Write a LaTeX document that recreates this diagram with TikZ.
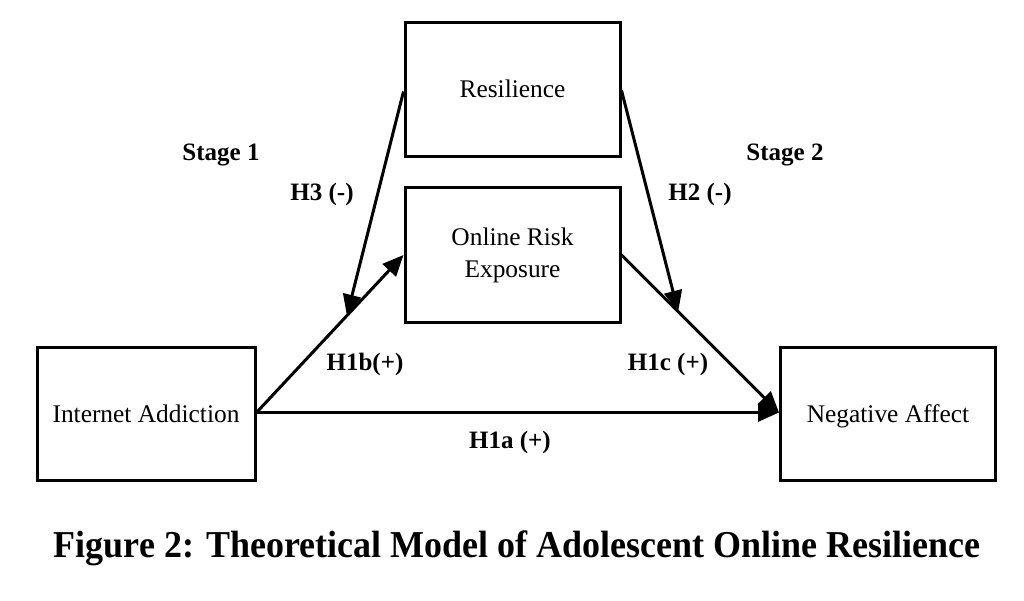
\documentclass[tikz,border=0pt]{standalone}
\usepackage{fontspec}
\setmainfont{Liberation Serif}
\usetikzlibrary{arrows.meta,calc}
\begin{document}
\begin{tikzpicture}[x=1pt,y=-1pt,
  box/.style={draw,line width=3pt,minimum width=215pt,minimum height=134pt,inner sep=0pt,align=center,font=\fontsize{25.4}{32}\selectfont},
  onebox/.style={box,text height=18pt,text depth=1pt},
  conn/.style={line width=3pt,-{Triangle[length=21pt,width=18pt]}},
  lbl/.style={font=\bfseries\fontsize{25}{28}\selectfont,inner sep=0pt}]
\useasboundingbox (0,0) rectangle (1024,601);
\node[onebox] (res) at (512.5,89.5) {Resilience};
\node[box] (ore) at (512.5,255) {Online Risk\\Exposure};
\node[onebox,minimum width=218pt,minimum height=133pt] (ia) at (146,413.5) {Internet Addiction};
\node[onebox,minimum height=133pt] (na) at (888,413.5) {Negative Affect};
\coordinate (iaout) at ($(ia.east)+(0,-1)$);
\coordinate (nain) at ($(na.west)+(0,-1)$);
\coordinate (h3tip) at ($(iaout)!0.615!(ore.west)$);
\coordinate (h2tip) at ($(ore.east)!0.36!(nain)$);
\draw[conn] (iaout) -- (nain);
\draw[conn] (iaout) -- (ore.west);
\draw[conn] (ore.east) -- (nain);
\draw[conn] ($(res.west)+(0,2)$) -- (h3tip);
\draw[conn] ($(res.east)+(0,1)$) -- (h2tip);
\node[lbl] (s1) at (221,154.5) {Stage 1};
\node[lbl] (s2) at (785,154.5) {Stage 2};
\node[lbl] (h3) at (322,194) {H3 (-)};
\node[lbl] (h2) at (700,194) {H2 (-)};
\node[lbl] (h1b) at (365,364) {H1b(+)};
\node[lbl] (h1c) at (668,364) {H1c (+)};
\node[lbl] (h1a) at (510,442) {H1a (+)};
\node[inner sep=0pt] (cap) at (517,548) {\scalebox{0.947}[1]{\bfseries\fontsize{38}{42}\selectfont Figure 2: Theoretical Model of Adolescent Online Resilience}};
\end{tikzpicture}
\end{document}
